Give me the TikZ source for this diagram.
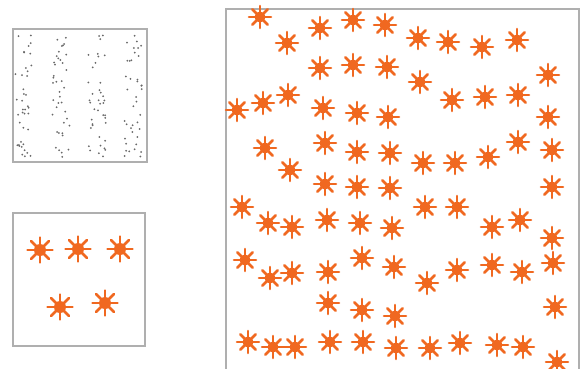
\documentclass[tikz,border=0pt]{standalone}
\begin{document}
\definecolor{starc}{RGB}{240,104,32}
\definecolor{framec}{RGB}{175,175,175}
\definecolor{dotc}{RGB}{105,105,105}
\begin{tikzpicture}[x=1pt,y=-1pt,
  frame/.style={draw=framec,line width=1.3pt},
  ast/.pic={
    \fill[starc] (0,0) circle (5.5pt);
    \foreach \a in {0,45,...,315}
      \draw[starc,line width=2.6pt,line cap=round] (0,0) -- (\a:11pt);
  },
  bigast/.pic={
    \fill[starc] (0,0) circle (6pt);
    \foreach \a in {0,45,...,315}
      \draw[starc,line width=2.6pt,line cap=round] (0,0) -- (\a:12.5pt);
  }]
\useasboundingbox (0,0) rectangle (582,368);
\fill[white] (0,0) rectangle (582,368);
% top-left box with dots
\draw[frame] (13,29) rectangle (147,162);
\pgfmathsetseed{7}
\foreach \cx in {24,61,97,133}{
  \foreach \i in {1,...,40}{
    \pgfmathsetmacro\dx{\cx+rand*9}
    \pgfmathsetmacro\dy{96+rand*61}
    \fill[dotc] (\dx,\dy) circle (1pt);
  }
}
% bottom-left box with five asterisks
\draw[frame] (13,213) rectangle (145,346);
\foreach \p in {(40,250),(78,249),(120,249),(60,307),(105,303)}
  \pic at \p {bigast};
% big box
\draw[frame] (226,375) -- (226,9) -- (579,9) -- (579,375);
\foreach \p in {
  (260,17),(287,43),(320,28),(353,20),(385,25),(418,38),(448,42),(482,47),(517,40),
  (320,68),(353,65),(387,67),(420,82),(452,100),(485,97),(518,95),(548,75),
  (237,110),(263,103),(288,95),(323,108),(357,113),(388,117),(548,117),
  (265,148),(325,143),(357,152),(390,153),(423,163),(455,163),(488,157),(518,142),(552,150),
  (290,170),(325,184),(357,187),(390,188),(552,187),
  (242,207),(268,223),(292,227),(327,220),(360,223),(392,228),(425,207),(457,207),(492,227),(520,220),(552,238),
  (245,260),(270,278),(292,273),(328,272),(362,258),(394,267),(427,283),(457,270),(492,265),(522,272),(553,263),
  (328,303),(362,310),(395,316),(555,307),
  (248,342),(273,347),(295,347),(330,342),(363,342),(396,348),(430,348),(460,343),(497,345),(523,347),(557,362)}
  \pic at \p {ast};
\end{tikzpicture}
\end{document}
